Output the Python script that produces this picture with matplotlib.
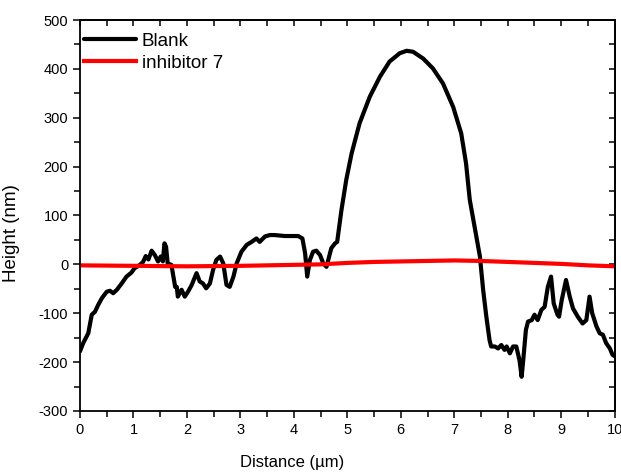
import matplotlib.pyplot as plt
from matplotlib.ticker import MultipleLocator

plt.rcParams["font.family"] = ["Liberation Sans", "DejaVu Sans"]
plt.rcParams["axes.unicode_minus"] = False

# AFM height profile, blank (black)
blank_x = [0.00, 0.06, 0.155, 0.19, 0.22, 0.28, 0.34, 0.41, 0.50, 0.56, 0.62, 0.69,
           0.78, 0.87, 0.96, 1.02, 1.12, 1.18, 1.23, 1.28, 1.34, 1.40, 1.46, 1.51,
           1.55, 1.58, 1.61, 1.64, 1.71, 1.78, 1.81, 1.83, 1.90, 1.96, 2.02, 2.09,
           2.18, 2.24, 2.30, 2.36, 2.43, 2.49, 2.55, 2.62, 2.68, 2.74, 2.80, 2.87,
           2.93, 3.02, 3.12, 3.21, 3.30, 3.36, 3.46, 3.55, 3.64, 3.83, 4.08, 4.16,
           4.21, 4.25, 4.30, 4.36, 4.42, 4.49, 4.55, 4.61, 4.65, 4.70, 4.77, 4.81,
           4.84, 4.89, 4.98, 5.08, 5.23, 5.42, 5.61, 5.79, 5.98, 6.11, 6.23, 6.42,
           6.60, 6.79, 6.98, 7.13, 7.22, 7.29, 7.38, 7.48, 7.54, 7.60, 7.66, 7.69,
           7.76, 7.82, 7.88, 7.94, 7.98, 8.04, 8.10, 8.16, 8.22, 8.26, 8.29, 8.34,
           8.38, 8.45, 8.50, 8.56, 8.63, 8.69, 8.75, 8.81, 8.86, 8.93, 8.96, 9.01,
           9.09, 9.16, 9.22, 9.31, 9.40, 9.47, 9.53, 9.58, 9.66, 9.72, 9.78, 9.84,
           9.91, 9.96, 10.00]
blank_y = [-178, -161, -141, -120, -103, -97, -83, -69, -56, -54, -59, -52,
           -39, -25, -17, -8, -1, 5, 17, 10, 28, 19, 6, 16,
           6, 43, 36, 2, -1, -46, -46, -66, -52, -66, -56, -42,
           -18, -35, -39, -49, -39, -11, 9, 16, 2, -42, -46, -25,
           2, 26, 40, 46, 53, 46, 57, 60, 60, 58, 58, 53,
           23, -25, 9, 26, 28, 19, 2, -5, 12, 33, 43, 46,
           70, 111, 173, 227, 289, 343, 384, 415, 432, 437, 435, 421,
           401, 370, 322, 268, 207, 132, 77, 16, -52, -107, -155, -168,
           -168, -172, -165, -175, -168, -182, -168, -168, -196, -230, -196, -134,
           -117, -114, -103, -114, -93, -87, -46, -25, -80, -103, -107, -73,
           -32, -66, -90, -107, -121, -114, -66, -100, -127, -141, -144, -161,
           -172, -185, -188]

# inhibitor 7 (red)
inh_x = [0.0, 1.0, 2.0, 3.0, 4.0, 4.5, 5.0, 5.5, 6.0, 6.5, 7.0, 7.5, 8.0, 8.5, 9.0, 9.5, 10.0]
inh_y = [-2, -3, -4, -3, -1, 0, 3, 5, 6, 7, 8, 7, 5, 3, 1, -2, -4]

fig = plt.figure(figsize=(6.21, 4.73), dpi=100)
ax = fig.add_axes([0.1288, 0.1311, 0.861, 0.8266])

ax.plot(blank_x, blank_y, color="black", lw=3, solid_joinstyle="round",
        solid_capstyle="round", label="Blank")
ax.plot(inh_x, inh_y, color="#ff0000", lw=3, label="inhibitor 7")

ax.set_xlim(0, 10)
ax.set_ylim(-300, 500)
ax.xaxis.set_major_locator(MultipleLocator(1))
ax.xaxis.set_minor_locator(MultipleLocator(0.5))
ax.yaxis.set_major_locator(MultipleLocator(100))
ax.yaxis.set_minor_locator(MultipleLocator(50))
ax.tick_params(which="both", direction="out", labelsize=10.5, width=1.1, color="black")
ax.tick_params(which="major", length=5)
ax.tick_params(which="minor", length=4)

# mirrored inward ticks on top and right
top = ax.secondary_xaxis("top")
top.xaxis.set_major_locator(MultipleLocator(0.5))
top.tick_params(direction="in", length=4, width=1.1, labeltop=False)
right = ax.secondary_yaxis("right")
right.yaxis.set_major_locator(MultipleLocator(50))
right.tick_params(direction="in", length=4, width=1.1, labelright=False)

for s in ax.spines.values():
    s.set_linewidth(1.3)
for sec in (top, right):
    for s in sec.spines.values():
        s.set_linewidth(1.3)

ax.set_xlabel("Distance (\u00b5m)", fontsize=12)
ax.xaxis.set_label_coords(0.396, -0.113)
ax.set_ylabel("Height (nm)", fontsize=13.5)
ax.yaxis.set_label_coords(-0.113, 0.455)

ax.legend(loc="upper left", bbox_to_anchor=(0.007, 0.968), frameon=False,
          fontsize=13.5, handlelength=2.8, handletextpad=0.3, borderpad=0,
          borderaxespad=0, labelspacing=0.27)

fig.savefig("out.png", dpi=100)
